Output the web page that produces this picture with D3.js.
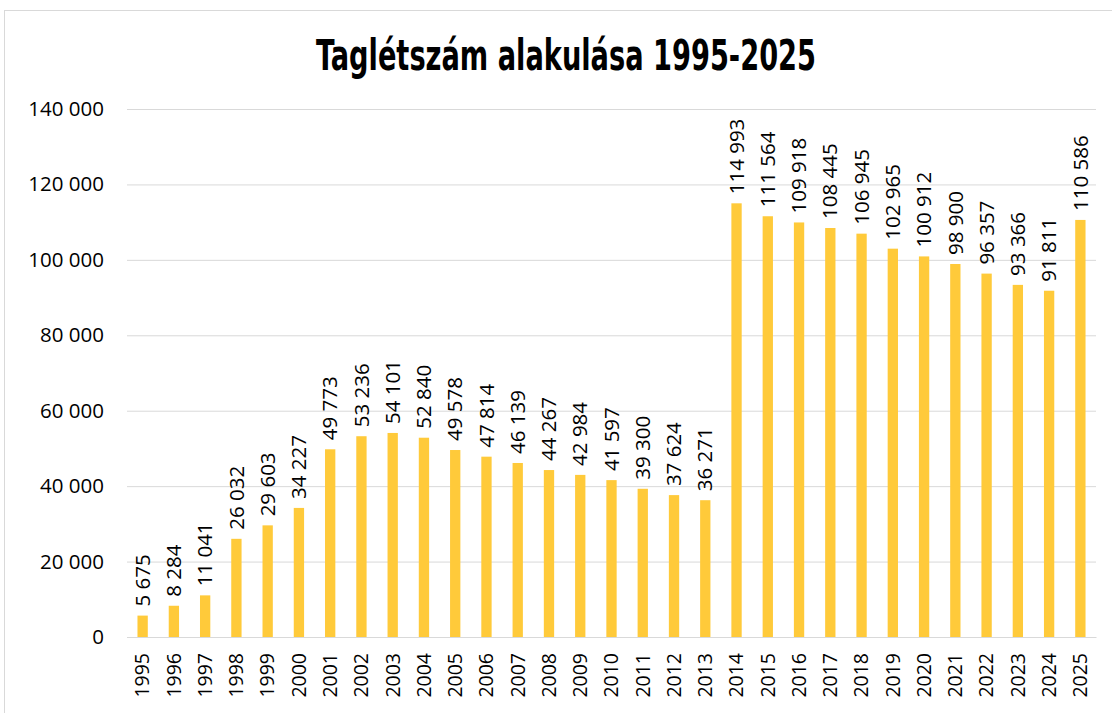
<!DOCTYPE html>
<meta charset="utf-8">
<style>
  body { margin: 0; background: #fff; }
  .tick text { font-family: "Open Sans", "Noto Sans", sans-serif; }
</style>
<svg width="1112" height="713"></svg>
<script src="https://d3js.org/d3.v7.min.js"></script>
<script>
  var years = ["1995", "1996", "1997", "1998", "1999", "2000", "2001", "2002", "2003", "2004",
    "2005", "2006", "2007", "2008", "2009", "2010", "2011", "2012", "2013", "2014",
    "2015", "2016", "2017", "2018", "2019", "2020", "2021", "2022", "2023", "2024", "2025"];
  var members = [5675, 8284, 11041, 26032, 29603, 34227, 49773, 53236, 54101, 52840,
    49578, 47814, 46139, 44267, 42984, 41597, 39300, 37624, 36271, 114993,
    111564, 109918, 108445, 106945, 102965, 100912, 98900, 96357, 93366, 91811, 110586];
  var yTicks = [0, 20000, 40000, 60000, 80000, 100000, 120000, 140000];

  var svg = d3.select("svg"),
    margin = { top: 109, right: 16, bottom: 76, left: 127 },
    width = +svg.attr("width") - margin.left - margin.right,
    height = +svg.attr("height") - margin.top - margin.bottom;

  // chart area frame
  svg.append("rect")
    .attr("x", 4.5).attr("y", 10.5)
    .attr("width", 1120).attr("height", 720)
    .attr("fill", "#fff")
    .style("stroke", "#d9d9d9");

  svg.append("text")
    .attr("x", 566).attr("y", 70)
    .attr("text-anchor", "middle")
    .style("font-family", "'Liberation Sans Narrow', 'DejaVu Sans Condensed', sans-serif")
    .style("font-weight", "bold")
    .style("font-size", "42px")
    .attr("textLength", 500)
    .attr("lengthAdjust", "spacingAndGlyphs")
    .text("Taglétszám alakulása 1995-2025");

  var fmt = function(v) { return d3.format(",")(v).replace(/,/g, " "); };

  var x = d3.scaleBand().domain(years).range([0, width]).paddingInner(0.67).paddingOuter(0.335),
    y = d3.scaleLinear().domain([0, 140000]).range([height, 0]);

  var g = svg.append("g")
    .attr("transform", "translate(" + margin.left + "," + margin.top + ")");

  var yAxis = d3.axisLeft(y).tickValues(yTicks).tickSize(-width).tickFormat(fmt);
  g.append("g").call(function(a) {
    a.call(yAxis);
    a.select(".domain").remove();
    a.selectAll(".tick line").attr("stroke", "#d9d9d9");
    a.selectAll(".tick text")
      .attr("x", -23)
      .style("font-size", "20.5px")
      .attr("fill", "#000");
  });

  var xAxis = d3.axisBottom(x).tickSize(0);
  g.append("g")
    .attr("transform", "translate(0," + height + ")")
    .call(function(a) {
      a.call(xAxis);
      a.select(".domain").attr("stroke", "#d9d9d9");
      a.selectAll(".tick text")
        .attr("transform", "rotate(-90)")
        .attr("text-anchor", "end")
        .attr("x", -16)
        .attr("y", 0)
        .attr("dy", "0.35em")
        .style("font-size", "19.5px")
        .attr("fill", "#000");
    });

  var data = years.map(function(yr, i) { return { year: yr, value: members[i] }; });

  g.selectAll(".bar")
    .data(data)
    .enter().append("rect")
    .attr("class", "bar")
    .attr("x", function(d) { return x(d.year); })
    .attr("y", function(d) { return y(d.value); })
    .attr("width", x.bandwidth())
    .attr("height", function(d) { return height - y(d.value); })
    .attr("fill", "#ffca3a");

  g.selectAll(".label")
    .data(data)
    .enter().append("text")
    .attr("class", "label")
    .attr("transform", function(d) {
      return "translate(" + (x(d.year) + x.bandwidth() / 2) + "," + (y(d.value) - 9) + ") rotate(-90)";
    })
    .attr("dy", "0.35em")
    .style("font-family", "'Open Sans', 'Noto Sans', sans-serif")
    .style("font-size", "20.5px")
    .text(function(d) { return fmt(d.value); });
</script>
